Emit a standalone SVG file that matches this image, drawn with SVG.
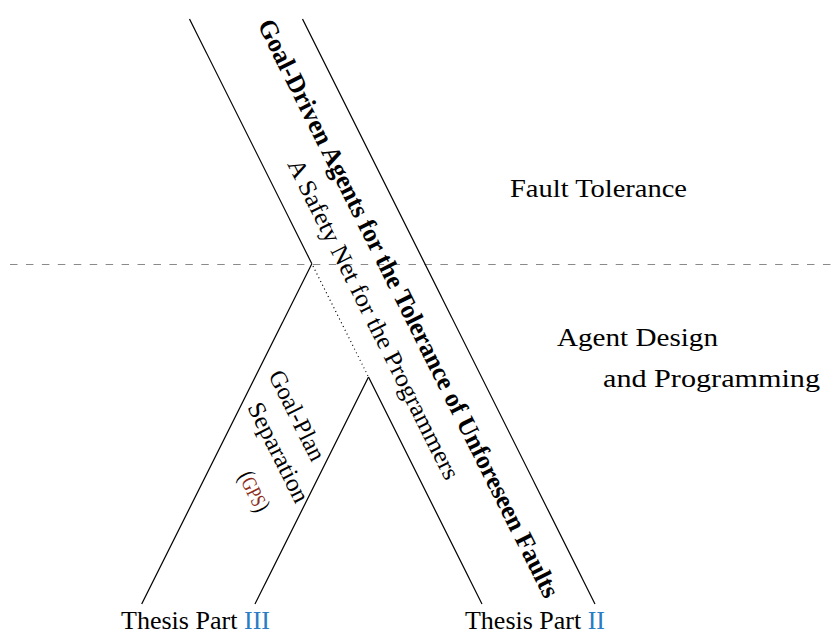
<svg xmlns="http://www.w3.org/2000/svg" width="833" height="633" viewBox="0 0 833 633">
<style>
.ln{stroke:#000;stroke-width:1.2;fill:none}
.dot{stroke:#000;stroke-width:1.2;fill:none;stroke-dasharray:1 3.2}
.dash{stroke:#8a8a8a;stroke-width:1.1;fill:none;stroke-dasharray:7.5 8.44}
text{font-family:"Liberation Serif","Times New Roman",serif;font-size:25px;fill:#000}
.b{font-weight:bold;font-size:26px}
.r{font-size:24.5px}
.blue{fill:#2a7cc4}
.red{fill:#8c2d19}
</style>
<rect width="833" height="633" fill="#fff"/>
<g id="connectors">
<path class="dash" d="M10 264.5H833"/>
<path class="ln" d="M189.5 19L311.85 263.7"/>
<path class="dot" d="M313 266L368.5 377"/>
<path class="ln" d="M368.5 377L482 604"/>
<path class="ln" d="M302.5 19L595 604"/>
<path class="ln" d="M311.85 263.7L141.7 604"/>
<path class="ln" d="M368.5 377L255 604"/>
</g>
<g id="fault-tolerance"><text x="510" y="197" textLength="177" lengthAdjust="spacingAndGlyphs">Fault Tolerance</text></g>
<g id="agent-design"><text x="557" y="346" textLength="161" lengthAdjust="spacingAndGlyphs">Agent Design</text><text x="603" y="387" textLength="217" lengthAdjust="spacingAndGlyphs">and Programming</text></g>
<g id="main-band">
<text class="b" transform="translate(257.2 24.6) rotate(63.435)" textLength="643" lengthAdjust="spacingAndGlyphs">Goal-Driven Agents for the Tolerance of Unforeseen Faults</text>
<text class="r" transform="translate(286.9 164) rotate(63.435)" textLength="355" lengthAdjust="spacingAndGlyphs">A Safety Net for the Programmers</text>
</g>
<g id="gps">
<text class="r" transform="translate(268 375.2) rotate(63.435)" textLength="98" lengthAdjust="spacingAndGlyphs">Goal-Plan</text>
<text class="r" transform="translate(247 407.2) rotate(63.435)" textLength="109" lengthAdjust="spacingAndGlyphs">Separation</text>
<text class="r" transform="translate(238 476) rotate(63.435)" textLength="42" lengthAdjust="spacingAndGlyphs">(<tspan class="red" font-size="21">GPS</tspan>)</text>
</g>
<g id="part3"><text x="121" y="629" textLength="149" lengthAdjust="spacingAndGlyphs">Thesis Part <tspan class="blue">III</tspan></text></g>
<g id="part2"><text x="465" y="629" textLength="140" lengthAdjust="spacingAndGlyphs">Thesis Part <tspan class="blue">II</tspan></text></g>
</svg>
